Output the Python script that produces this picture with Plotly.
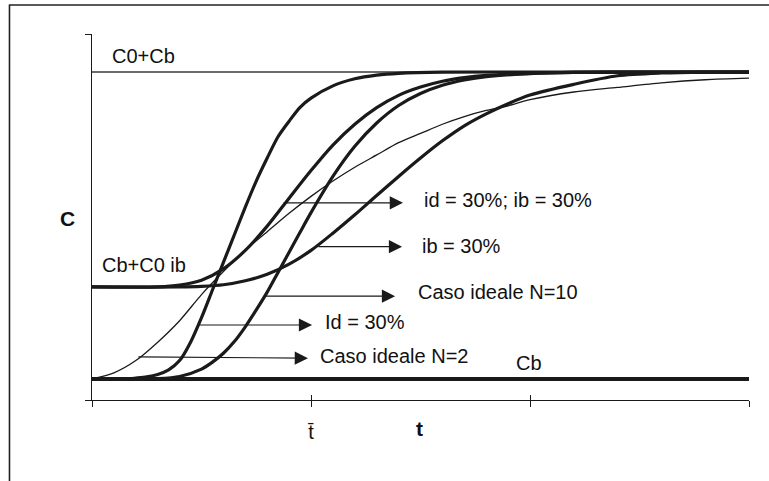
import plotly.graph_objects as go

# ---- data ----
t_n2 = [0, 0.1, 0.2, 0.3, 0.4, 0.5, 0.6, 0.7, 0.8, 0.9, 1.0, 1.1, 1.2, 1.3, 1.4, 1.5, 1.6, 1.7, 1.8, 1.9, 2.0, 2.2, 2.4, 2.6, 2.8, 3.0]
c_n2 = [0, 0.02, 0.06, 0.12, 0.19, 0.275, 0.35, 0.42, 0.48, 0.54, 0.595, 0.645, 0.69, 0.73, 0.77, 0.80, 0.83, 0.855, 0.875, 0.89, 0.91, 0.935, 0.95, 0.965, 0.975, 0.98]

t_id = [0, 0.15, 0.2, 0.25, 0.3, 0.35, 0.4, 0.45, 0.5, 0.55, 0.6, 0.65, 0.7, 0.75, 0.8, 0.85, 0.9, 0.95, 1.0, 1.1, 1.2, 1.3, 1.4, 1.6, 2.0, 3.0]
c_id = [0, 0, 0.003, 0.007, 0.015, 0.03, 0.06, 0.12, 0.2, 0.29, 0.38, 0.47, 0.56, 0.645, 0.72, 0.79, 0.84, 0.885, 0.915, 0.955, 0.978, 0.99, 0.996, 1.0, 1.0, 1.0]

t_n10 = [0, 0.2, 0.3, 0.4, 0.5, 0.55, 0.6, 0.65, 0.7, 0.75, 0.8, 0.85, 0.9, 0.95, 1.0, 1.1, 1.2, 1.3, 1.4, 1.5, 1.6, 1.7, 1.8, 2.0, 2.2, 2.5, 3.0]
c_n10 = [0, 0, 0.001, 0.008, 0.032, 0.055, 0.084, 0.122, 0.17, 0.225, 0.283, 0.348, 0.413, 0.478, 0.542, 0.66, 0.758, 0.834, 0.891, 0.93, 0.957, 0.974, 0.985, 0.995, 0.999, 1.0, 1.0]

t_idib = [0, 0.3, 0.4, 0.5, 0.6, 0.7, 0.8, 0.9, 1.0, 1.1, 1.2, 1.3, 1.4, 1.5, 1.6, 1.7, 1.8, 2.0, 2.2, 2.5, 3.0]
c_idib = [0.3, 0.3, 0.306, 0.322, 0.359, 0.419, 0.498, 0.589, 0.679, 0.762, 0.83, 0.884, 0.924, 0.951, 0.97, 0.982, 0.989, 0.996, 0.999, 1.0, 1.0]

t_ib = [0, 0.4, 0.5, 0.6, 0.7, 0.8, 0.9, 1.0, 1.1, 1.2, 1.3, 1.4, 1.5, 1.6, 1.7, 1.8, 1.9, 2.0, 2.2, 2.4, 2.6, 2.8, 3.0]
c_ib = [0.3, 0.3, 0.302, 0.307, 0.32, 0.341, 0.374, 0.419, 0.475, 0.535, 0.598, 0.66, 0.72, 0.776, 0.825, 0.864, 0.897, 0.925, 0.96, 0.988, 0.997, 1.0, 1.0]

t_lim = [0, 3]
c_base = [0, 0]      # Cb
c_top = [1, 1]       # C0+Cb

x_ticks = [0, 1, 2, 3]
x_ticktext = ["", "t\u0304", "", ""]

# labels: (text, x, y)
labels = [
    ("C0+Cb", 0.082, 1.052),
    ("Cb+C0 ib", 0.037, 0.371),
    ("Cb", 1.927, 0.052),
    ("id = 30%; ib = 30%", 1.507, 0.583),
    ("ib = 30%", 1.498, 0.433),
    ("Caso ideale N=10", 1.479, 0.283),
    ("Id = 30%", 1.055, 0.186),
    ("Caso ideale N=2", 1.032, 0.075),
]
# arrows: (tail x, tail y, head x, head y)
arrows = [
    (0.868, 0.574, 1.420, 0.574),
    (1.027, 0.431, 1.416, 0.431),
    (0.781, 0.270, 1.384, 0.270),
    (0.484, 0.176, 1.005, 0.176),
    (0.205, 0.072, 0.986, 0.068),
]

FONT = "Liberation Sans, Arial, sans-serif"
INK = "#1a1a1a"

fig = go.Figure()

fig.add_trace(go.Scatter(x=t_lim, y=c_top, mode="lines", line=dict(color="#3a3a3a", width=1.4)))
fig.add_trace(go.Scatter(x=t_lim, y=c_base, mode="lines", line=dict(color=INK, width=4)))
fig.add_trace(go.Scatter(x=t_n2, y=c_n2, mode="lines", line=dict(color=INK, width=1.3, shape="spline", smoothing=0.8)))
for tx, cy in [(t_id, c_id), (t_n10, c_n10), (t_idib, c_idib), (t_ib, c_ib)]:
    fig.add_trace(go.Scatter(x=tx, y=cy, mode="lines", line=dict(color=INK, width=3.2, shape="spline", smoothing=0.8)))
# invisible trace for overlay axis (inner tick marks)
fig.add_trace(go.Scatter(x=t_lim, y=c_base, mode="lines", line=dict(width=0), opacity=0, xaxis="x2", hoverinfo="skip"))

y_lo, y_hi = -0.0684, 1.124

fig.update_layout(
    width=769, height=481,
    margin=dict(l=92, r=20, t=34, b=81),
    paper_bgcolor="white", plot_bgcolor="white",
    showlegend=False,
    font=dict(family=FONT, size=20, color="#111"),
    xaxis=dict(range=[0, 3], showline=True, linecolor=INK, linewidth=1.3, ticks="outside", ticklen=6,
               tickwidth=1.2, tickcolor=INK, tickvals=x_ticks, ticktext=x_ticktext, showgrid=False,
               zeroline=False, tickfont=dict(size=20, family=FONT, color="#111"), ticklabelstandoff=8),
    xaxis2=dict(range=[0, 3], overlaying="x", side="bottom", showline=False, ticks="inside", ticklen=5,
                tickwidth=1.2, tickcolor=INK, tickvals=x_ticks, showticklabels=False, showgrid=False,
                zeroline=False),
    yaxis=dict(range=[y_lo, y_hi], showline=True, linecolor=INK, linewidth=1.3, ticks="outside", ticklen=6,
               tickwidth=1.2, tickcolor=INK, tickvals=[y_lo, y_hi], showticklabels=False, showgrid=False,
               zeroline=False),
)

ann = []
for txt, x, y in labels:
    ann.append(dict(text=txt, x=x, y=y, xref="x", yref="y", xanchor="left", yanchor="middle",
                    showarrow=False, font=dict(size=20, family=FONT, color="#111")))
for tx, ty, hx, hy in arrows:
    ann.append(dict(text="", x=hx, y=hy, ax=tx, ay=ty, xref="x", yref="y", axref="x", ayref="y",
                    showarrow=True, arrowhead=2, arrowsize=2.2, arrowwidth=1.2, arrowcolor=INK, standoff=0))
ann.append(dict(text="<b>C</b>", x=-0.037, y=0.497, xref="paper", yref="paper", xanchor="center",
                yanchor="middle", showarrow=False, font=dict(size=21, family=FONT, color="#111")))
ann.append(dict(text="<b>t</b>", x=0.498, y=-0.077, xref="paper", yref="paper", xanchor="center",
                yanchor="middle", showarrow=False, font=dict(size=21, family=FONT, color="#111")))
fig.update_layout(annotations=ann)

# outer frame (left and top edges)
fig.add_shape(type="line", xref="paper", yref="paper", x0=-0.1256, x1=-0.1256, y0=-0.3, y1=1.0805,
              line=dict(color="#222", width=1.6))
fig.add_shape(type="line", xref="paper", yref="paper", x0=-0.1256, x1=1.1, y0=1.0792, y1=1.0792,
              line=dict(color="#222", width=1.6))

fig.write_html("out.html", config={"displayModeBar": False},
               post_script="document.body.style.margin='0';document.body.style.overflow='hidden';")
